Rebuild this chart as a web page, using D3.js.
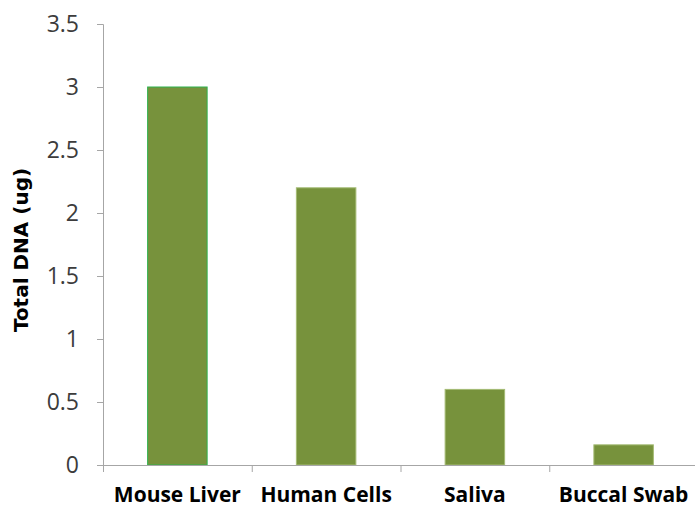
<!DOCTYPE html>
<html>
<head>
<meta charset="utf-8">
<script src="https://cdn.jsdelivr.net/npm/d3@7"></script>
<style>
  html, body { margin: 0; padding: 0; background: #fff; }
  svg { display: block; }
</style>
</head>
<body>
<svg id="chart" width="695" height="508"></svg>
<script>
// Total DNA yield per sample type
const categories = ["Mouse Liver", "Human Cells", "Saliva", "Buccal Swab"];
const values = [3.0, 2.2, 0.6, 0.16];
const yTicks = [0, 0.5, 1, 1.5, 2, 2.5, 3, 3.5];
const yTitle = "Total DNA (ug)";

const svg = d3.select("#chart");
const margin = { left: 103, right: -3, top: 24, bottom: 43 };
const W = 695, H = 508;

const x = d3.scaleBand()
  .domain(categories)
  .range([margin.left, W - margin.right])
  .paddingInner(0.6)
  .paddingOuter(0.3);

const y = d3.scaleLinear()
  .domain([0, 3.5])
  .range([H - margin.bottom, margin.top]);

const axisColor = "#a6a6a6";

// bars
svg.append("g")
  .selectAll("rect")
  .data(categories)
  .join("rect")
  .attr("x", d => x(d))
  .attr("width", x.bandwidth())
  .attr("y", (d, i) => y(values[i]))
  .attr("height", (d, i) => y(0) - y(values[i]))
  .attr("fill", "#77923c")
  .attr("stroke", (d, i) => i === 0 ? "#2fb24e" : "#a4bb74")
  .attr("stroke-width", 1);

// y axis
const yAxis = svg.append("g")
  .attr("transform", `translate(${margin.left},0)`)
  .call(d3.axisLeft(y).tickValues(yTicks).tickFormat(d3.format("")).tickSize(6).tickPadding(18));
yAxis.select(".domain").attr("stroke", axisColor);
yAxis.selectAll(".tick line").attr("stroke", axisColor);
yAxis.selectAll(".tick text")
  .attr("fill", "#3c3c3c")
  .style("font-family", "'Open Sans', sans-serif")
  .style("font-size", "23px");

// x axis with boundary ticks between categories
const bounds = d3.range(categories.length).map(i => margin.left + i * (W - margin.right - margin.left) / categories.length);
const xg = svg.append("g").attr("transform", `translate(0,${y(0)})`);
xg.append("line")
  .attr("x1", margin.left).attr("x2", W - margin.right)
  .attr("y1", 0.5).attr("y2", 0.5)
  .attr("stroke", axisColor);
xg.selectAll("line.tk")
  .data(bounds)
  .join("line")
  .attr("class", "tk")
  .attr("x1", d => d + 0.5).attr("x2", d => d + 0.5)
  .attr("y1", 0).attr("y2", 7)
  .attr("stroke", axisColor);
xg.selectAll("text")
  .data(categories)
  .join("text")
  .attr("x", d => x(d) + x.bandwidth() / 2)
  .attr("y", 37)
  .attr("text-anchor", "middle")
  .attr("fill", "#000")
  .style("font-family", "'Open Sans', sans-serif")
  .style("font-weight", "bold")
  .style("font-size", "21px")
  .text(d => d);

// y axis title
svg.append("text")
  .attr("transform", `translate(28,250) rotate(-90)`)
  .attr("text-anchor", "middle")
  .attr("fill", "#000")
  .style("font-family", "'DejaVu Sans', sans-serif")
  .style("font-weight", "bold")
  .style("font-size", "20px")
  .text(yTitle);
</script>
</body>
</html>
